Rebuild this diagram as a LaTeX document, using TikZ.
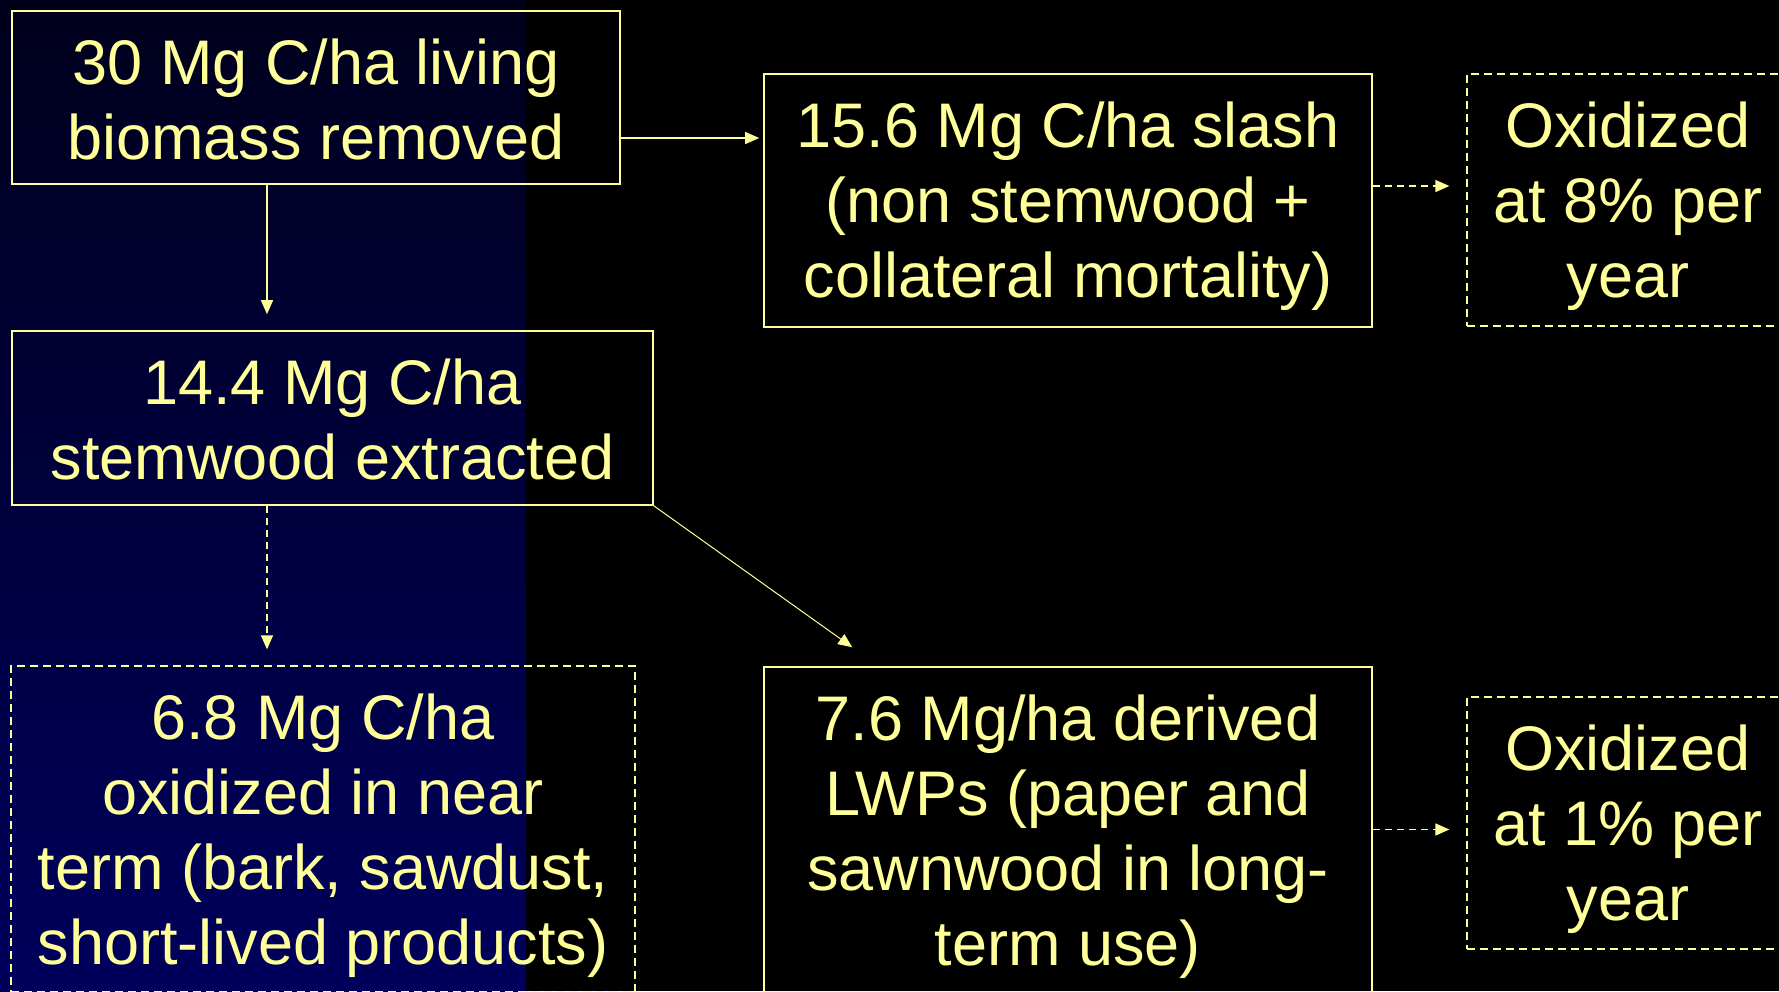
\documentclass[tikz,border=0pt]{standalone}
\usepackage{fontspec}
\setmainfont{Liberation Sans}
\usetikzlibrary{arrows.meta,calc}
\definecolor{pale}{HTML}{FFFF99}
\definecolor{navytop}{RGB}{0,0,28}
\definecolor{navymid}{RGB}{0,0,68}
\definecolor{navybot}{RGB}{0,0,92}
\begin{document}
\begin{tikzpicture}[x=1pt,y=-1pt,
  every node/.style={inner sep=0pt},
  txt/.style={font=\fontsize{63pt}{75pt}\selectfont, text=pale, align=center, anchor=north, yshift=-28pt},
  sbox/.style={draw=pale, line width=1.6pt},
  dbox/.style={draw=pale, line width=1.3pt, dash pattern=on 8pt off 5pt},
  arr/.style={draw=pale, line width=1.4pt, -{Triangle[length=14pt,width=12pt]}},
  darr/.style={arr, dash pattern=on 7pt off 5pt}]
\useasboundingbox (0,0) rectangle (1779,991);
\clip (0,0) rectangle (1779,991);
\fill[black] (0,0) rectangle (1779,991);
\shade[top color=navytop, middle color=navymid, bottom color=navybot] (0,0) rectangle (526,991);

\node[sbox, minimum width=608pt, minimum height=173pt] (b1) at (316,97.5) {};
\node[sbox, minimum width=641pt, minimum height=174pt] (b2) at (332.5,418) {};
\node[dbox, minimum width=624pt, minimum height=326pt] (b3) at (323,829) {};
\node[sbox, minimum width=608pt, minimum height=253pt] (slash) at (1068,200.5) {};
\node[sbox, minimum width=608pt, minimum height=325pt] (lwp) at (1068,829.5) {};
\node[dbox, minimum width=322pt, minimum height=252pt] (ox8) at (1628,200) {};
\node[dbox, minimum width=322pt, minimum height=252pt] (ox1) at (1628,823) {};

\node[txt] (b1t) at (b1.north) {30 Mg C/ha living\\biomass removed};
\node[txt] (b2t) at (b2.north) {14.4 Mg C/ha\\stemwood extracted};
\node[txt] (b3t) at (b3.north) {6.8 Mg C/ha\\oxidized in near\\term (bark, sawdust,\\short-lived products)};
\node[txt] (slasht) at (slash.north) {15.6 Mg C/ha slash\\(non stemwood +\\collateral mortality)};
\node[txt] (lwpt) at (lwp.north) {7.6 Mg/ha derived\\LWPs (paper and\\sawnwood in long-\\term use)};
\node[txt] (ox8t) at (ox8.north) {Oxidized\\at 8\% per\\year};
\node[txt] (ox1t) at (ox1.north) {Oxidized\\at 1\% per\\year};

\draw[arr, shorten >=4pt] ([yshift=-40.5pt]b1.east) -- ([yshift=-40.5pt]b1.east -| slash.west);
\draw[arr, shorten >=16pt] ([xshift=-49pt]b1.south) -- ([xshift=-49pt]b1.south |- b2.north);
\draw[darr, shorten >=16pt] ([xshift=-65.5pt]b2.south) -- ([xshift=-65.5pt]b2.south |- b3.north);
\coordinate (lwpin) at ([xshift=89pt,yshift=19pt]lwp.north west);
\draw[arr, line width=1pt] (b2.south east) -- (lwpin);
\draw[darr, shorten >=17pt] ([yshift=14.5pt]slash.east) -- ([yshift=14.5pt]slash.east -| ox8.west);
\draw[darr, shorten >=17pt] (lwp.east) -- (lwp.east -| ox1.west);
\end{tikzpicture}
\end{document}
